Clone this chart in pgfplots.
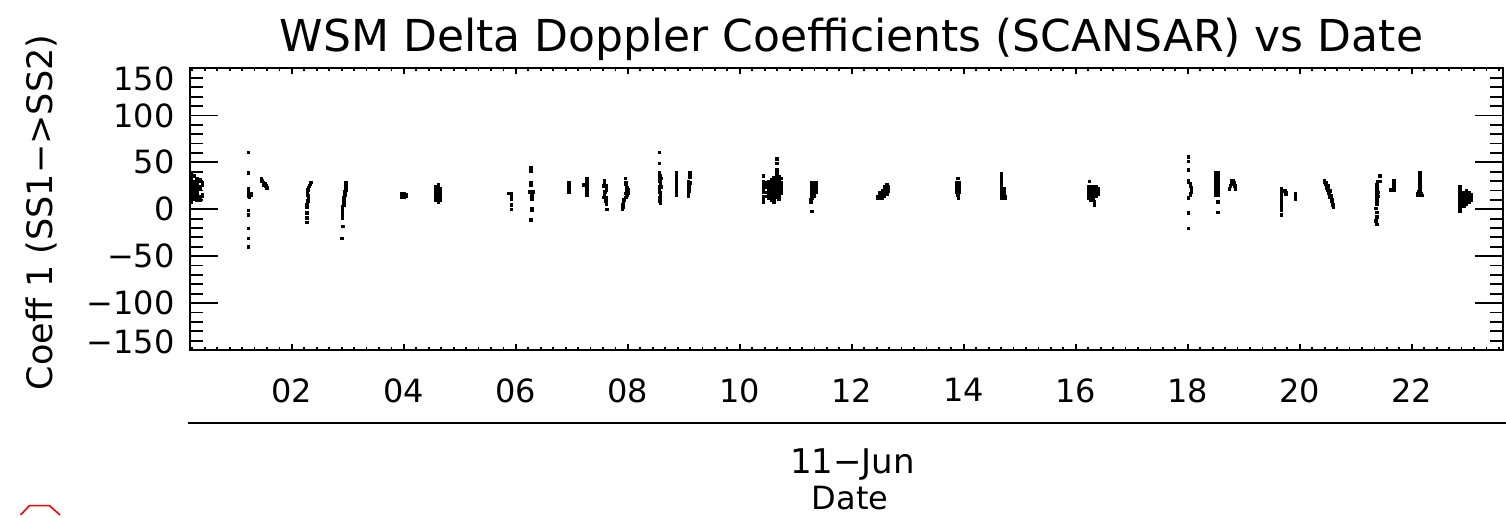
\documentclass[border=0pt]{standalone}
\usepackage{pgfplots}
\pgfplotsset{compat=1.18}
\usepackage{graphicx}
\usepackage{fontspec}
\setmainfont{DejaVu Sans}

% shared geometry of the plot box (1px = 0.5pt)
\pgfplotsset{
  box/.style={
    at={(95pt,84pt)}, anchor=south west,
    scale only axis, width=656.5pt, height=140.75pt,
    xmin=0.18, xmax=23.63, ymin=-150, ymax=150,
    axis line style={line width=1pt, black},
    tick style={line width=0.9pt, black},
    tick align=inside,
    tick label style={font=\fontsize{16}{16}\selectfont, inner sep=0pt},
    /pgf/number format/assume math mode=true,
  },
  dots/.style={only marks, mark=square*, mark size=0.65pt, black, mark options={line width=0.2pt}},
}

\begin{document}
\begin{tikzpicture}
\useasboundingbox (0,0) rectangle (753pt,259pt);

% y axis ticks and the data
\begin{axis}[box,
  xtick=\empty,
  ytick={-150,-100,-50,0,50,100,150},
  yticklabels={{\raisebox{4pt}[\height][\depth]{−150}},−100,−50,0,50,100,{\raisebox{-5pt}[\height][\depth]{150}}},
  minor y tick num=4,
  major tick length=14pt, minor tick length=6.5pt,
  yticklabel style={xshift=-7.5pt},
]
% 00h
\addplot[dots] coordinates {
(0.20,8)(0.20,10)(0.20,12)(0.20,14)(0.20,16)(0.20,18)(0.20,20)(0.20,22)(0.20,24)(0.20,26)(0.20,28)(0.20,30)(0.20,32)(0.20,34)(0.20,36)(0.20,38)
(0.25,12)(0.25,14)(0.25,16)(0.25,18)(0.25,20)(0.25,22)(0.25,24)(0.25,26)(0.25,28)(0.25,30)(0.25,36)
(0.30,10)(0.30,13)(0.30,16)(0.30,20)(0.30,24)(0.30,28)(0.30,33)
(0.35,10)(0.35,12)(0.35,14)(0.35,22)(0.35,24)(0.35,30)(0.35,32)
(0.40,14)(0.40,16)(0.40,26)(0.40,28)
};
% 01h - 03h
\addplot[dots] coordinates {
(1.22,61)(1.22,39)(1.22,22)(1.22,20)(1.22,18)(1.22,16)(1.22,14)(1.24,13)(1.26,15)(1.27,17)
(1.22,-1)(1.22,-6)(1.22,-20)(1.22,-31)(1.22,-40)
(1.45,33)(1.47,31)(1.49,29)(1.51,27)(1.53,25)(1.55,23)(1.46,30)(1.50,26)
(2.34,29)(2.33,27)(2.31,25)(2.29,23)(2.28,21)(2.27,19)(2.27,17)(2.28,15)(2.29,13)(2.29,11)(2.28,9)(2.27,7)(2.26,5)
(2.26,2)(2.26,-4)(2.26,-9)(2.26,-14)
(2.96,29)(2.96,27)(2.96,25)(2.96,23)(2.96,21)(2.95,20)(2.94,19)(2.94,17)(2.94,15)
(2.92,13)(2.92,11)(2.93,10)(2.92,9)(2.92,7)(2.92,5)
(2.90,3)(2.90,1)(2.90,-1)(2.90,-3)(2.90,-5)(2.90,-7)(2.90,-9)(2.91,-18)(2.89,-31)
};
% 04h - 07h
\addplot[dots] coordinates {
(3.96,13)(3.96,15)(3.96,17)(4.00,13)(4.00,15)(4.00,17)(4.03,14)(4.03,16)
(4.57,10)(4.57,12)(4.57,14)(4.57,16)(4.57,18)(4.57,20)(4.57,22)(4.57,24)
(4.61,8)(4.61,10)(4.61,12)(4.61,14)(4.61,16)(4.61,18)(4.61,20)(4.61,22)(4.61,24)(4.61,26)
(4.64,10)(4.64,12)(4.64,14)(4.64,16)(4.64,18)(4.64,20)(4.64,22)
(5.86,17)(5.89,17)(5.92,17)(5.92,14)(5.92,11)(5.92,5)(5.92,0)
(6.27,45)(6.27,43)(6.27,41)(6.27,29)(6.27,26)(6.25,19)(6.28,19)(6.31,19)
(6.28,17)(6.28,15)(6.28,13)(6.28,11)(6.28,1)(6.28,-1)(6.27,-11)
(6.94,18)(6.94,20)(6.94,22)(6.94,24)(6.94,26)(6.94,28)
(7.27,15)(7.27,17)(7.27,19)(7.27,21)(7.27,23)(7.27,25)(7.27,27)(7.27,29)(7.27,31)(7.27,33)(7.21,26)(7.24,26)
(7.58,31)(7.58,29)(7.58,27)(7.60,25)(7.61,23)(7.61,21)(7.59,19)(7.58,17)(7.58,15)(7.60,13)(7.61,11)(7.60,9)(7.61,6)(7.62,0)
(7.56,25)(7.56,13)
(7.95,33)(7.96,29)(7.96,27)(7.97,25)(7.98,23)(7.98,21)(7.97,19)(7.96,17)(7.98,15)(7.96,13)(7.93,10)(7.92,8)(7.91,5)(7.91,2)(7.90,0)
(8.00,21)(8.00,17)
};
% 08h - 11h
\addplot[dots] coordinates {
(8.56,61)(8.56,49)(8.56,39)(8.57,36)(8.56,33)(8.57,30)(8.58,27)(8.57,24)(8.56,21)(8.57,18)(8.58,15)(8.57,12)(8.57,9)(8.58,7)
(8.59,33)(8.59,24)
(8.86,15)(8.86,17)(8.86,19)(8.86,21)(8.86,23)(8.86,25)(8.86,27)(8.86,29)(8.86,31)(8.86,33)(8.86,35)(8.86,37)(8.86,39)
(9.10,39)(9.10,35)(9.08,30)(9.09,28)(9.09,26)(9.09,24)(9.09,22)(9.09,20)(9.08,18)(9.08,16)(9.08,14)(9.11,28)
(10.66,54)(10.66,49)(10.66,42)(10.66,39)
(10.42,36)(10.42,30)(10.42,28)(10.42,26)(10.42,24)(10.42,22)(10.42,20)(10.42,18)(10.42,14)(10.42,12)(10.42,10)(10.42,8)
(10.47,28)(10.47,24)(10.47,18)(10.47,14)
(10.51,30)(10.51,28)(10.51,26)(10.51,22)(10.51,20)(10.51,18)(10.51,16)(10.51,14)(10.51,12)
(10.56,32)(10.56,30)(10.56,28)(10.56,26)(10.56,22)(10.56,20)(10.56,16)(10.56,12)(10.56,10)
(10.60,34)(10.60,32)(10.60,30)(10.60,28)(10.60,26)(10.60,24)(10.60,22)(10.60,20)(10.60,18)(10.60,16)(10.60,14)(10.60,12)(10.60,10)(10.60,8)
(10.65,35)(10.65,33)(10.65,31)(10.65,29)(10.65,27)(10.65,25)(10.65,23)(10.65,21)(10.65,19)(10.65,17)(10.65,15)(10.65,13)
(10.69,35)(10.69,33)(10.69,31)(10.69,29)(10.69,27)(10.69,25)(10.69,23)(10.69,21)(10.69,19)(10.69,17)(10.69,15)(10.69,13)(10.69,11)
(10.73,33)(10.73,29)(10.73,25)(10.73,21)(10.73,17)
(11.28,12)(11.28,14)(11.28,16)(11.28,18)(11.28,20)(11.28,22)(11.28,24)(11.28,26)(11.28,28)
(11.32,14)(11.32,16)(11.32,18)(11.32,20)(11.32,22)(11.32,24)(11.32,26)(11.32,28)
(11.36,18)(11.36,20)(11.36,22)(11.36,24)(11.36,26)(11.36,28)
(11.27,10)(11.27,8)(11.28,-2)
};
% 12h - 16h
\addplot[dots] coordinates {
(12.46,12)(12.46,14)(12.50,12)(12.50,14)(12.50,16)(12.50,18)
(12.54,12)(12.54,14)(12.54,16)(12.54,18)(12.54,20)
(12.58,14)(12.58,16)(12.58,18)(12.58,20)(12.58,22)(12.58,24)
(12.62,16)(12.62,18)(12.62,20)(12.62,22)(12.62,24)(12.62,26)(12.65,20)(12.65,22)(12.65,24)
(13.89,33)(13.87,18)(13.87,20)(13.87,22)(13.87,24)(13.87,26)(13.87,28)
(13.91,18)(13.91,20)(13.91,22)(13.91,24)(13.91,26)(13.91,28)(13.90,12)(13.89,15)
(14.67,12)(14.67,14)(14.67,16)(14.67,18)(14.67,20)(14.67,22)(14.67,24)(14.67,26)(14.67,28)(14.67,30)(14.67,32)(14.67,34)(14.67,36)(14.67,38)
(14.71,12)(14.71,14)(14.71,16)(14.71,18)(14.71,20)(14.71,22)(14.74,12)(14.74,14)
(16.24,30)
(16.22,12)(16.22,14)(16.22,16)(16.22,18)(16.22,20)(16.22,22)(16.22,24)
(16.27,10)(16.27,12)(16.27,14)(16.27,16)(16.27,18)(16.27,20)(16.27,22)(16.27,24)
(16.31,10)(16.31,12)(16.31,14)(16.31,16)(16.31,18)(16.31,20)(16.31,22)(16.31,24)
(16.36,14)(16.36,16)(16.36,18)(16.36,20)(16.36,22)(16.36,24)
(16.39,16)(16.39,18)(16.39,20)(16.39,22)(16.33,8)(16.33,5)
};
% 18h - 20h
\addplot[dots] coordinates {
(18.01,56)(18.01,51)(18.01,42)(18.01,31)(18.01,29)(18.04,27)(18.04,25)(18.06,23)(18.06,21)(18.06,19)
(18.04,17)(18.04,15)(18.01,13)(18.01,12)(18.01,-4)(18.01,-20)
(18.50,15)(18.50,17)(18.50,19)(18.50,21)(18.50,23)(18.50,25)(18.50,27)(18.50,29)(18.50,31)(18.50,33)(18.50,35)(18.50,37)(18.50,39)
(18.53,15)(18.53,17)(18.53,19)(18.53,21)(18.53,23)(18.53,25)(18.53,27)(18.53,29)(18.53,31)(18.53,33)(18.53,35)(18.53,37)(18.53,39)
(18.53,8)(18.53,-3)
(18.74,22)(18.76,25)(18.78,28)(18.80,31)(18.82,28)(18.84,25)(18.85,22)(18.78,31)(18.80,27)
(19.67,22)(19.67,20)(19.67,18)(19.67,16)(19.67,14)(19.67,12)(19.67,10)(19.67,8)(19.67,6)(19.67,4)(19.67,2)(19.67,-1)(19.67,-6)
(19.70,20)(19.73,20)(19.75,18)(19.75,16)
(19.92,17)(19.92,15)(19.92,13)(19.92,11)
(20.44,31)(20.45,29)(20.46,27)(20.47,25)(20.48,23)(20.50,21)(20.51,19)(20.52,17)(20.53,15)(20.54,13)(20.56,11)(20.57,9)(20.58,7)(20.59,5)(20.60,3)
(20.47,29)(20.50,25)(20.53,20)(20.56,15)(20.58,10)
};
% 21h - 23h
\addplot[dots] coordinates {
(21.43,36)(21.38,30)(21.41,30)(21.43,30)
(21.37,26)(21.37,24)(21.37,22)(21.37,20)(21.37,18)(21.37,16)(21.37,14)(21.37,12)(21.37,10)(21.37,8)(21.37,6)
(21.39,18)(21.39,14)
(21.36,1)(21.37,-3)(21.37,-8)(21.36,-12)(21.37,-16)
(21.68,31)(21.68,29)(21.68,27)(21.68,25)(21.68,23)(21.68,21)(21.65,21)(21.62,21)
(22.14,15)(22.14,17)(22.14,19)(22.14,21)(22.14,23)(22.14,25)(22.14,27)(22.14,29)(22.14,31)(22.14,33)(22.14,35)(22.14,37)(22.14,39)
(22.10,17)(22.12,19)(22.17,17)(22.19,15)(22.11,15)
(22.86,24)(22.86,22)(22.86,20)(22.86,18)(22.86,16)(22.86,14)(22.86,12)(22.86,10)(22.86,8)(22.86,6)(22.86,4)(22.86,2)(22.86,0)(22.86,-2)
(22.93,4)(22.93,6)(22.93,8)(22.93,10)(22.93,12)(22.93,14)(22.93,16)(22.93,18)
(22.97,6)(22.97,8)(22.97,10)(22.97,12)(22.97,14)(22.97,16)(22.97,18)(22.97,20)
(23.02,8)(23.02,10)(23.02,12)(23.02,14)(23.02,16)(23.02,18)
(23.06,10)(23.06,12)(23.06,14)(23.06,16)
};
\end{axis}

% x axis ticks (shorter, as in the original)
\begin{axis}[box,
  ytick=\empty,
  xtick={0,2,4,6,8,10,12,14,16,18,20,22,24},
  xticklabels={,02,04,06,08,10,12,14,16,18,20,22,},
  minor x tick num=8,
  major tick length=3pt, minor tick length=1.5pt,
  xticklabel style={yshift=-14pt},
]
\end{axis}

% title, axis labels, date line
\node[anchor=base, font=\fontsize{22}{26}\selectfont] at (425.75pt,233.15pt)
  {WSM Delta Doppler Coefficients (SCANSAR) vs Date};
\node[anchor=base, rotate=90, font=\fontsize{17.5}{20}\selectfont] at (26pt,152.75pt)
  {Coeff 1 (SS1−>SS2)};
\draw[line width=1pt] (94pt,47.35pt) -- (753pt,47.35pt);
\node[anchor=base, font=\fontsize{17}{20}\selectfont] at (426.25pt,22.35pt) {11−Jun};
\node[anchor=base, font=\fontsize{16}{18}\selectfont] at (425pt,4pt) {Date};
\draw[red, line width=0.8pt] (10.3pt,1.5pt) -- (14.7pt,6.2pt) -- (24.7pt,6.2pt) -- (30pt,1.5pt);
\end{tikzpicture}
\end{document}
